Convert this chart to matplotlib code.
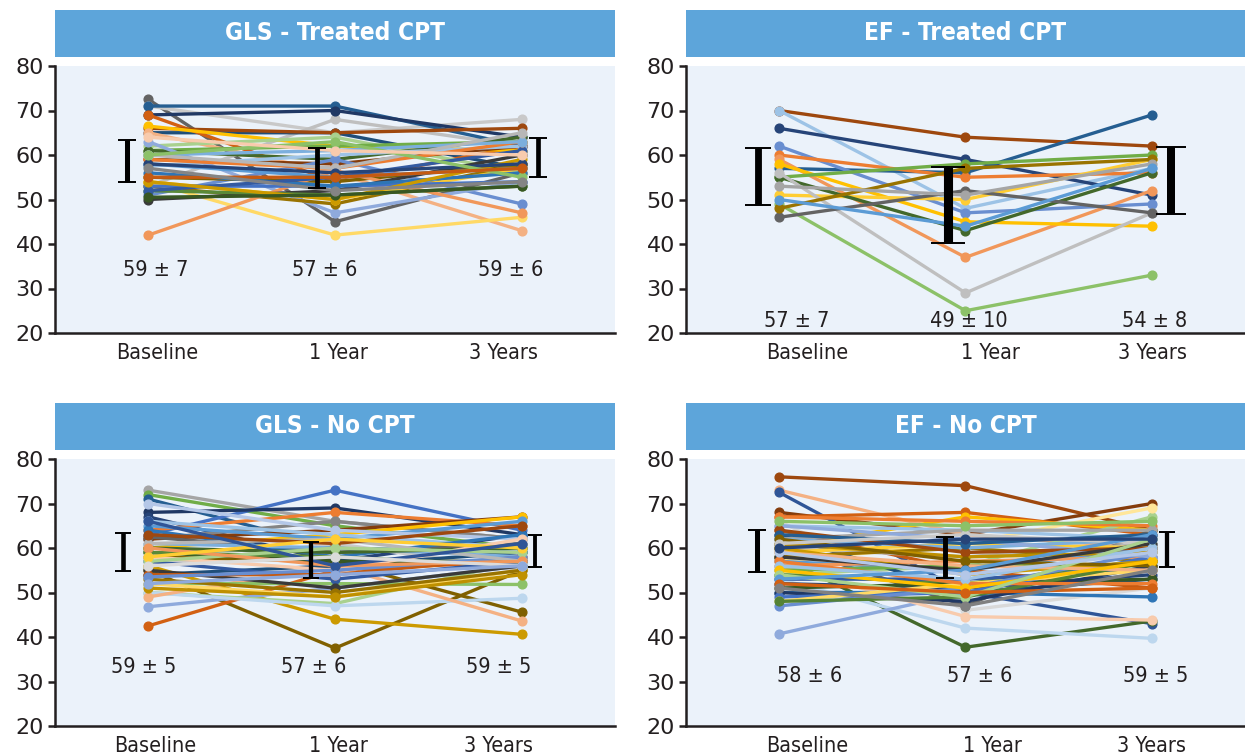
import matplotlib
matplotlib.use("Agg")
import matplotlib.pyplot as plt
from matplotlib.patches import Rectangle

# categorias e valores
categories = ["Baseline", "1 Year", "3 Years"]

gls_treated = [
    [72.5, 45, 56], [71, 65, 68], [53, 68, 62], [71, 71, 62], [69, 70, 64],
    [65, 65, 57], [69, 54, 62], [66, 65, 66], [66.5, 62, 61], [65, 56, 43],
    [62, 64, 56], [61, 62, 63], [61, 59, 64], [59, 58, 62], [57.5, 60, 62],
    [51, 59, 49], [63, 47, 54], [55, 54, 58], [53, 49, 58], [54, 42, 46],
    [54, 50, 57], [42, 56.5, 47], [50, 52, 60], [53, 53, 54], [58, 55, 57],
    [56, 53, 56], [52, 51, 53], [52, 55, 61], [59, 57, 63], [54, 50, 59],
    [60, 61, 63], [60, 57, 65], [58, 56, 58], [60, 63, 55], [50.5, 51, 53],
    [55, 55, 57], [57, 52, 54], [64, 61, 60],
]
ef_treated = [
    [70, 64, 62], [70, 48, 57], [66, 59, 51], [57, 56, 69], [62, 47, 49],
    [60, 55, 56], [59, 37, 52], [58, 45, 44], [51, 50, 59], [55, 58, 60],
    [55, 43, 56], [56, 29, 47], [49, 25, 33], [46, 52, 47], [48, 57, 59],
    [53, 51, 58], [50, 44, 57],
]
gls_none = [
    [73, 66, 62], [72, 65, 60], [71, 60, 59], [63, 73, 64], [68, 69, 63],
    [67, 57, 63], [64, 68, 65], [62, 66, 62], [62, 64, 67], [60, 63, 67],
    [56, 61, 55], [58, 57, 45.6], [55, 37.5, 55], [56, 44, 40.6], [42.5, 55, 57],
    [46.8, 51, 56], [50, 47.5, 57], [50, 47, 48.7], [49, 56, 43.6], [52, 52, 51.8],
    [52, 49, 55], [54, 56, 59], [59, 57, 57], [62.5, 59, 61], [65, 62, 66],
    [66, 63, 60], [70, 64, 62], [64, 58, 63], [61, 60, 58], [60, 59, 60],
    [59, 58, 56], [58, 55, 62], [57, 53, 57], [55, 51, 56], [54, 54, 58],
    [53, 50, 55], [51, 49, 54], [53.5, 55, 58], [61, 62, 57], [63, 61, 65],
    [57, 60, 59], [60, 56, 57], [58, 62, 60], [66, 56, 61], [56, 58, 56],
    [52, 54, 56],
]
ef_none = [
    [76, 74, 64], [68, 63, 70], [73, 63, 60], [72.5, 50, 43], [67, 68, 63],
    [60, 67, 64], [66, 46, 51], [58, 37.7, 43.6], [53, 42, 39.7], [40.7, 50, 57],
    [56, 44.6, 43.8], [61, 47, 64], [54, 56, 67], [57, 61, 69], [64, 55, 51],
    [50, 50, 49], [63, 50, 53], [67, 66, 65], [65, 64, 62], [62, 64, 64],
    [60, 58, 61], [59, 61, 60], [58, 60, 57], [57, 55, 60], [56, 57, 58],
    [55, 56, 56], [54, 52, 57], [53, 53, 55], [52, 51, 54], [51, 52, 53],
    [50, 48, 56], [49, 50, 58], [48, 52, 55], [47, 51, 59], [48, 49, 57],
    [62, 60, 62], [61, 58, 59], [60, 54, 57], [59, 56, 55], [65, 62, 58],
    [64, 59, 60], [63, 61, 63], [62, 57, 56], [61, 63, 61], [66, 65, 66],
    [58, 55, 61], [57, 52, 52], [56, 53, 60], [55, 51, 57], [54, 49, 62],
    [53, 55, 63], [52, 50, 51], [51, 47, 55], [59, 54, 59], [60, 62, 62],
]

# media +- dp escritos em cada painel
gls_treated_labels = ["59 ± 7", "57 ± 6", "59 ± 6"]
ef_treated_labels = ["57 ± 7", "49 ± 10", "54 ± 8"]
gls_none_labels = ["59 ± 5", "57 ± 6", "59 ± 5"]
ef_none_labels = ["58 ± 6", "57 ± 6", "59 ± 5"]

# barras "I" (centro e meia altura, como desenhadas)
gls_treated_bar = [58.6, 57.1, 59.5]
gls_treated_err = [4.7, 4.5, 4.4]
ef_treated_bar = [55.2, 48.8, 54.3]
ef_treated_err = [6.4, 8.5, 7.5]
gls_none_bar = [59.1, 57.3, 59.3]
gls_none_err = [4.3, 4.0, 3.6]
ef_none_bar = [59.3, 57.9, 59.7]
ef_none_err = [4.7, 4.6, 4.0]

# cores das linhas (estilo)
tl_colors = ['#636363', '#C9C9C9', '#BFBFBF', '#255E91', '#203864', '#1F4E79', '#D26012',
             '#9E480E', '#FFC000', '#F4B183', '#A9D18E', '#70AD47', '#43682B', '#843C0C',
             '#9DC3E6', '#698ED0', '#8FAADC', '#7F6000', '#997300', '#FFD966', '#FFCD33',
             '#F1975A', '#3A3A3A', '#4472C4', '#5B9BD5', '#2E75B6', '#5A8A39', '#335AA1',
             '#ED7D31', '#CC9A00', '#7CAFDD', '#B7B7B7', '#264478', '#8CC168', '#385723',
             '#C55A11', '#848484', '#F8CBAD']
tr_colors = ['#9E480E', '#9DC3E6', '#264478', '#255E91', '#698ED0', '#ED7D31', '#F1975A',
             '#FFC000', '#FFCD33', '#70AD47', '#43682B', '#BFBFBF', '#8CC168', '#636363',
             '#997300', '#A5A5A5', '#5B9BD5']
bl_colors = ['#A5A5A5', '#70AD47', '#255E91', '#4472C4', '#203864', '#264478', '#ED7D31',
             '#848484', '#843C0C', '#FFC000', '#C9C9C9', '#7F6000', '#806000', '#CC9A00',
             '#D26012', '#8FAADC', '#A9D18E', '#BDD7EE', '#F4B183', '#8CC168', '#FFD966',
             '#1F4E79', '#385723', '#636363', '#5B9BD5', '#9DC3E6', '#B4C7E7', '#2E75B6',
             '#7CAFDD', '#43682B', '#5A8A39', '#F8CBAD', '#335AA1', '#3A3A3A', '#C55A11',
             '#997300', '#BF9000', '#698ED0', '#B7B7B7', '#9E480E', '#A9D18E', '#F1975A',
             '#FFCD33', '#2F5597', '#DBDBDB', '#8FAADC']
br_colors = ['#9E480E', '#843C0C', '#F4B183', '#2F5597', '#D26012', '#FFC000', '#D9D9D9',
             '#43682B', '#BDD7EE', '#8FAADC', '#F8CBAD', '#636363', '#A9D18E', '#FFE699',
             '#C55A11', '#2E75B6', '#1F4E79', '#ED7D31', '#9DC3E6', '#A5A5A5', '#B7B7B7',
             '#FFCD33', '#997300', '#5B9BD5', '#F1975A', '#70AD47', '#5A8A39', '#335AA1',
             '#264478', '#385723', '#203864', '#4472C4', '#FFD966', '#698ED0', '#548235',
             '#7CAFDD', '#BF9000', '#CC9A00', '#F4B183', '#8FAADC', '#9E480E', '#255E91',
             '#7F6000', '#C9C9C9', '#8CC168', '#3A3A3A', '#ED7D31', '#9DC3E6', '#FFC000',
             '#A9D18E', '#5B9BD5', '#D26012', '#808080', '#B4C7E7', '#264478']

BAR_BLUE = '#5DA5DA'
BG = '#EBF2FA'
INK = '#231F20'
PX = 267 / 60.0  # pixeis por unidade do eixo y
COND = dict(family='DejaVu Sans', fontstretch='condensed')


def painel(rect, title, values, colors, bar, err, bar_x, labels, label_x, label_y, tick_x):
    ax = fig.add_axes(rect)
    ax.set_facecolor(BG)
    ax.set_xlim(-0.5, 2.5)
    ax.set_ylim(20, 80)
    for s in ['top', 'right']:
        ax.spines[s].set_visible(False)
    for s in ['left', 'bottom']:
        ax.spines[s].set_linewidth(1.8)
        ax.spines[s].set_color(INK)
    ax.set_yticks(range(20, 81, 10))
    ax.tick_params(axis='y', length=5, width=1.8, color=INK, labelsize=16,
                   labelcolor=INK, pad=3)
    ax.set_xticks(tick_x)
    ax.set_xticklabels(categories, fontsize=15.5, color=INK, **COND)
    ax.tick_params(axis='x', length=0, pad=7)

    for v, c in zip(values, colors):
        ax.plot([0, 1, 2], v, color=c, lw=2.4, marker='o', ms=6.3, mec=c, zorder=2)

    # barras em forma de "I"
    for x, m, e in zip(bar_x, bar, err):
        h = 2 * e * PX * 0.72  # altura em pontos
        ax.errorbar([x], [m], yerr=[e], fmt='none', ecolor='black',
                    elinewidth=h * 0.12, capsize=h * 0.22, capthick=1.4, zorder=5)

    for x, t in zip(label_x, labels):
        ax.text(x, label_y, t, ha='center', va='center', fontsize=15.5,
                color=INK, zorder=6, **COND)

    ax.add_patch(Rectangle((0, 1.0337), 1, 0.176, transform=ax.transAxes,
                           facecolor=BAR_BLUE, edgecolor='none', clip_on=False))
    ax.text(0.5, 1.122, title, transform=ax.transAxes, ha='center', va='center',
            color='white', fontsize=17.5, fontweight='bold', **COND)
    return ax


fig = plt.figure(figsize=(12.45, 7.54), dpi=100)
W, H = 1245.0, 754.0

painel([55 / W, 1 - 333 / H, 560 / W, 267 / H], "GLS - Treated CPT", gls_treated, tl_colors,
       gls_treated_bar, gls_treated_err, [-0.114, 0.904, 2.088],
       gls_treated_labels, [0.041, 0.946, 1.94], 34.2, [0.045, 1.021, 1.905])
painel([686 / W, 1 - 333 / H, 559 / W, 267 / H], "EF - Treated CPT", ef_treated, tr_colors,
       ef_treated_bar, ef_treated_err, [-0.114, 0.906, 2.103],
       ef_treated_labels, [0.096, 1.019, 2.017], 22.6, [0.149, 1.132, 2.001])
painel([55 / W, 1 - 726 / H, 560 / W, 267 / H], "GLS - No CPT", gls_none, bl_colors,
       gls_none_bar, gls_none_err, [-0.136, 0.871, 2.071],
       gls_none_labels, [-0.023, 0.888, 1.876], 33.3, [0.036, 1.016, 1.878])
painel([686 / W, 1 - 726 / H, 559 / W, 267 / H], "EF - No CPT", ef_none, br_colors,
       ef_none_bar, ef_none_err, [-0.119, 0.89, 2.081],
       ef_none_labels, [0.165, 1.078, 2.02], 31.3, [0.149, 1.142, 2.0])

fig.savefig("out.png", dpi=100)
